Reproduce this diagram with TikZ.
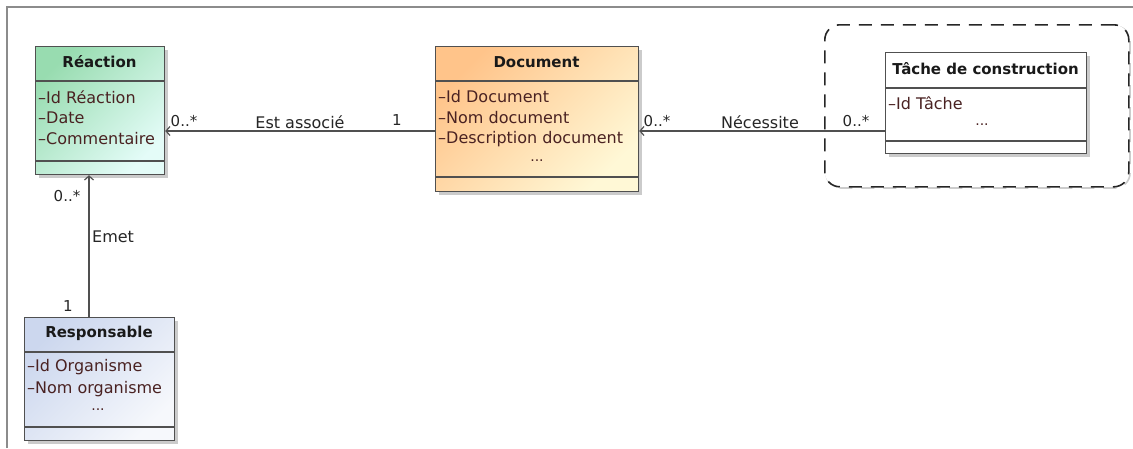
\documentclass[tikz,border=0pt]{standalone}
\usepackage{fontspec}
\setmainfont{DejaVu Sans}
\usetikzlibrary{arrows.meta,shadows}
\definecolor{attr}{HTML}{4A2222}
\definecolor{linec}{HTML}{505050}
\definecolor{frame}{HTML}{8C8C8C}
\definecolor{reacA}{HTML}{98DCB0}
\definecolor{reacB}{HTML}{E4FCF8}
\definecolor{docA}{HTML}{FFC48A}
\definecolor{docB}{HTML}{FFF8D6}
\definecolor{respA}{HTML}{CCD7EE}
\definecolor{respB}{HTML}{F6F8FC}
\begin{document}
\begin{tikzpicture}[x=1pt,y=-1pt,
  classbox/.style={draw=linec, line width=1.2pt, anchor=north west, inner sep=0pt,
    drop shadow={shadow xshift=3pt, shadow yshift=-3pt, fill=black!45, opacity=.45}},
  grad/.style n args={2}{top color=#1, bottom color=#2, shading angle=45},
  sep/.style={draw=linec, line width=1.2pt},
  ctitle/.style={font=\fontsize{15}{17}\selectfont\bfseries, text=black!90, inner sep=0pt},
  attrtxt/.style={font=\fontsize{16}{18}\selectfont, text=attr, anchor=west, inner sep=0pt},
  dots/.style={font=\fontsize{14}{16}\selectfont, text=attr, inner sep=0pt},
  lbl/.style={font=\fontsize{16}{18}\selectfont, text=black!85, inner sep=0pt},
  mult/.style={font=\fontsize{15}{17}\selectfont, text=black!85, inner sep=0pt},
  conn/.style={draw=linec, line width=1.2pt, -{Straight Barb[length=4pt,width=9pt]}},
]
\useasboundingbox (0,0) rectangle (1133,448);
\fill[white] (0,0) rectangle (1133,448);
\draw[frame, line width=1.6pt] (7,448) -- (7,7) -- (1133,7);

% package (dashed rounded)
\draw[black!20, line width=1.6pt, dash pattern=on 13pt off 9pt, rounded corners=15pt]
  (826,26) rectangle (1130,188);
\node[draw=black!85, line width=1.6pt, dash pattern=on 13pt off 9pt, rounded corners=15pt,
  anchor=north west, minimum width=304pt, minimum height=162pt, inner sep=0pt, fill=white]
  (pkg) at (824,24) {};

% Réaction
\node[classbox, grad={reacA}{reacB}, minimum width=129pt, minimum height=128pt] (reac) at (35,46) {};
\draw[sep] (35,81) -- (164,81);
\draw[sep] (35,161) -- (164,161);
\node[ctitle] (reacT) at (99.5,62) {Réaction};
\node[attrtxt] (reac1) at (38,97) {–Id Réaction};
\node[attrtxt] (reac2) at (38,118) {–Date};
\node[attrtxt] (reac3) at (38,139) {–Commentaire};

% Document
\node[classbox, grad={docA}{docB}, minimum width=203pt, minimum height=145pt] (doc) at (435,46) {};
\draw[sep] (435,81) -- (638,81);
\draw[sep] (435,177) -- (638,177);
\node[ctitle] (docT) at (536.5,62) {Document};
\node[attrtxt] (doc1) at (438,97) {–Id Document};
\node[attrtxt] (doc2) at (438,118) {–Nom document};
\node[attrtxt] (doc3) at (438,139) {–Description document};
\node[dots] (doc4) at (537,161) {...};

% Tâche de construction
\node[classbox, fill=white, minimum width=201pt, minimum height=101pt] (tache) at (885,52) {};
\draw[sep] (885,88) -- (1086,88);
\draw[sep] (885,141) -- (1086,141);
\node[ctitle] (tacheT) at (985.5,69) {Tâche de construction};
\node[attrtxt] (tache1) at (888,103) {–Id Tâche};
\node[dots] (tache2) at (982,125) {...};

% Responsable
\node[classbox, grad={respA}{respB}, minimum width=150pt, minimum height=123pt] (resp) at (24,317) {};
\draw[sep] (24,352) -- (174,352);
\draw[sep] (24,427) -- (174,427);
\node[ctitle] (respT) at (99,333) {Responsable};
\node[attrtxt] (resp1) at (27,367) {–Id Organisme};
\node[attrtxt] (resp2) at (27,389) {–Nom organisme};
\node[dots] (resp3) at (98,410) {...};

% connectors
\coordinate (docL) at (435,131);
\coordinate (tacheL) at (885,131);
\coordinate (respT0) at (89,317);
\draw[conn] (docL) -- (reac.east |- docL);
\draw[conn] (tacheL) -- (doc.east |- tacheL);
\draw[conn] (respT0) -- (reac.south -| respT0);

% labels
\node[mult] (m1) at (184,121) {0..*};
\node[lbl] (l1) at (300,122) {Est associé};
\node[mult] (m2) at (397,120) {1};
\node[mult] (m3) at (657,121) {0..*};
\node[lbl] (l2) at (760,122) {Nécessite};
\node[mult] (m4) at (856,121) {0..*};
\node[mult] (m5) at (67,196) {0..*};
\node[lbl, anchor=west] (l3) at (92,237) {Emet};
\node[mult] (m6) at (68,306) {1};
\end{tikzpicture}
\end{document}
